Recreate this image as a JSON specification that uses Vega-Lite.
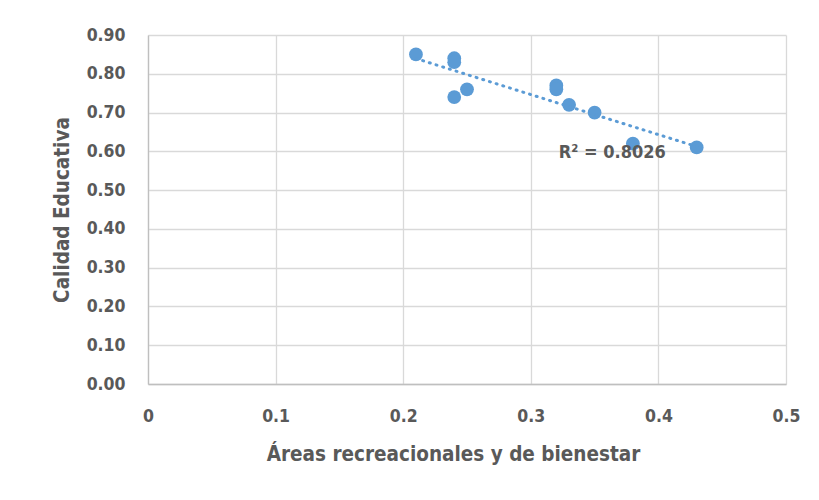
{
  "$schema": "https://vega.github.io/schema/vega-lite/v6.json",
  "width": 638,
  "height": 349,
  "autosize": {"type": "none"},
  "padding": {"left": 148, "top": 35, "right": 33, "bottom": 116},
  "background": "white",
  "config": {
    "font": "DejaVu Sans Condensed, Liberation Sans, sans-serif",
    "view": {"stroke": null},
    "axis": {
      "labelFont": "DejaVu Sans Condensed, Liberation Sans, sans-serif",
      "titleFont": "DejaVu Sans Condensed, Liberation Sans, sans-serif",
      "labelFontWeight": "bold",
      "titleFontWeight": "bold",
      "labelColor": "#595959",
      "titleColor": "#595959",
      "labelFontSize": 17.5,
      "titleFontSize": 20.5,
      "labelOverlap": false,
      "labelFlush": false,
      "gridColor": "#d9d9d9",
      "gridWidth": 1.3,
      "domainColor": "#bfbfbf",
      "domainWidth": 1.3,
      "ticks": false
    }
  },
  "data": {
    "values": [
      {"areas": 0.21, "calidad": 0.85},
      {"areas": 0.24, "calidad": 0.84},
      {"areas": 0.24, "calidad": 0.83},
      {"areas": 0.24, "calidad": 0.74},
      {"areas": 0.25, "calidad": 0.76},
      {"areas": 0.32, "calidad": 0.77},
      {"areas": 0.32, "calidad": 0.76},
      {"areas": 0.33, "calidad": 0.72},
      {"areas": 0.35, "calidad": 0.70},
      {"areas": 0.38, "calidad": 0.62},
      {"areas": 0.43, "calidad": 0.61}
    ]
  },
  "encoding": {
    "x": {
      "field": "areas", "type": "quantitative",
      "scale": {"domain": [0, 0.5], "nice": false},
      "axis": {
        "values": [0, 0.1, 0.2, 0.3, 0.4, 0.5],
        "labelExpr": "datum.value == 0 ? '0' : format(datum.value, '.1f')",
        "labelPadding": 23,
        "title": "Áreas recreacionales y de bienestar",
        "titlePadding": 20,
        "titleX": 305
      }
    },
    "y": {
      "field": "calidad", "type": "quantitative",
      "scale": {"domain": [0, 0.9], "nice": false},
      "axis": {
        "values": [0, 0.1, 0.2, 0.3, 0.4, 0.5, 0.6, 0.7, 0.8, 0.9],
        "format": ".2f",
        "labelPadding": 23,
        "title": "Calidad Educativa",
        "titlePadding": 14
      }
    }
  },
  "layer": [
    {
      "mark": {"type": "point", "filled": true, "opacity": 1, "size": 190, "color": "#5b9bd5"}
    },
    {
      "transform": [
        {"regression": "calidad", "on": "areas", "extent": [0.21, 0.43]}
      ],
      "mark": {"type": "line", "color": "#5b9bd5", "strokeWidth": 3, "strokeDash": [1, 6], "strokeCap": "round"}
    },
    {
      "data": {"values": [{"label": "R² = 0.8026", "areas": 0.322, "calidad": 0.596}]},
      "mark": {"type": "text", "font": "DejaVu Sans Condensed, Liberation Sans, sans-serif", "fontWeight": "bold", "fontSize": 18, "color": "#595959", "align": "left", "baseline": "middle"},
      "encoding": {
        "text": {"field": "label"}
      }
    }
  ]
}
